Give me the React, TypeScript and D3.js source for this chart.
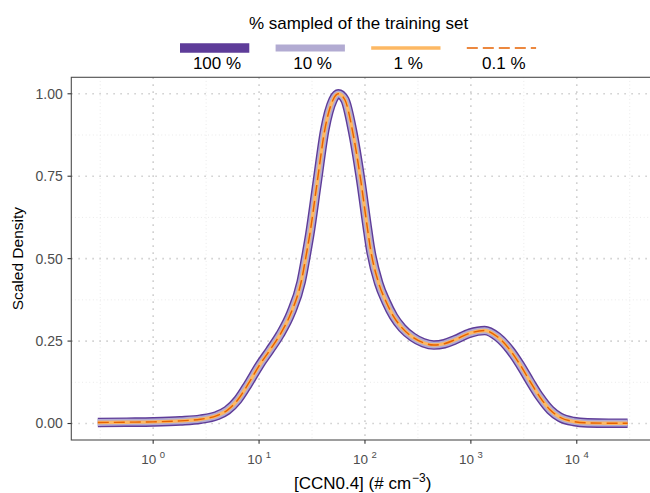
import React from 'react';
import * as d3 from 'd3';

// CCN0.4 concentration (# cm^-3) where the scaled density was read
const ccn = [0.3, 0.56, 1, 1.8, 2.8, 4, 5, 6.3, 7.9, 10, 12.6, 15.8, 20, 25, 28.2, 30, 35.5, 41.7, 50, 56,
  64.6, 76, 91, 106, 112, 135, 158, 186, 224, 282, 355, 447, 562, 708, 977, 1350, 1780, 2340, 2920, 3630,
  4470, 5620, 6920, 9330, 12600, 20000, 30200];

// scaled density for each sampling fraction of the training set
const density100 = [0.003, 0.004, 0.005, 0.008, 0.013, 0.024, 0.04, 0.072, 0.12, 0.175, 0.222, 0.27, 0.335,
  0.43, 0.52, 0.57, 0.735, 0.89, 0.982, 1.0, 0.982, 0.89, 0.74, 0.587, 0.535, 0.425, 0.37, 0.325, 0.29, 0.262,
  0.245, 0.238, 0.242, 0.254, 0.274, 0.282, 0.263, 0.223, 0.178, 0.127, 0.081, 0.041, 0.019, 0.006, 0.002,
  0.001, 0.001];
const density10 = [0.003, 0.004, 0.005, 0.008, 0.013, 0.024, 0.04, 0.072, 0.12, 0.175, 0.222, 0.27, 0.335,
  0.43, 0.52, 0.57, 0.735, 0.89, 0.982, 1.0, 0.982, 0.89, 0.74, 0.587, 0.535, 0.425, 0.37, 0.325, 0.29, 0.262,
  0.245, 0.238, 0.242, 0.254, 0.274, 0.282, 0.263, 0.223, 0.178, 0.127, 0.081, 0.041, 0.019, 0.006, 0.002,
  0.001, 0.001];
const density1 = [0.003, 0.004, 0.005, 0.008, 0.013, 0.024, 0.04, 0.072, 0.12, 0.175, 0.222, 0.27, 0.335,
  0.43, 0.52, 0.57, 0.735, 0.89, 0.982, 1.0, 0.982, 0.89, 0.74, 0.587, 0.535, 0.425, 0.37, 0.325, 0.29, 0.262,
  0.245, 0.238, 0.242, 0.254, 0.274, 0.282, 0.263, 0.223, 0.178, 0.127, 0.081, 0.041, 0.019, 0.006, 0.002,
  0.001, 0.001];
const density01 = [0.003, 0.004, 0.005, 0.008, 0.013, 0.024, 0.04, 0.072, 0.12, 0.175, 0.222, 0.27, 0.335,
  0.43, 0.52, 0.57, 0.735, 0.89, 0.982, 1.0, 0.982, 0.89, 0.74, 0.587, 0.535, 0.425, 0.37, 0.325, 0.29, 0.262,
  0.245, 0.238, 0.242, 0.254, 0.274, 0.282, 0.263, 0.223, 0.178, 0.127, 0.081, 0.041, 0.019, 0.006, 0.002,
  0.001, 0.001];

const seriesLabels = ['100 %', '10 %', '1 %', '0.1 %'];
const seriesColors = ['#5e3c99', '#b2abd2', '#fdb863', '#e66101'];
const yTicks = [0, 0.25, 0.5, 0.75, 1];
const xTickExps = [0, 1, 2, 3, 4];

const font = 'Liberation Sans, Arial, sans-serif';

const App = () => {
  const width = 650;
  const height = 493;
  const panel = { left: 71.3, right: 654.1, top: 77.3, bottom: 440 };

  // ggplot-style 5% expansion on the log axis
  const logExt = d3.extent(ccn.map((d) => Math.log10(d))) as [number, number];
  const pad = (logExt[1] - logExt[0]) * 0.05;
  const x = d3
    .scaleLog()
    .domain([10 ** (logExt[0] - pad), 10 ** (logExt[1] + pad)])
    .range([panel.left, panel.right]);
  const y = d3.scaleLinear().domain([-0.05, 1.05]).range([panel.bottom, panel.top]);

  const line = d3
    .line<number>()
    .x((d, i) => x(ccn[i]))
    .y((d) => y(d))
    .curve(d3.curveMonotoneX);

  const series = [density100, density10, density1, density01];
  const widths = [9.6, 6.8, 3.4, 1.4];

  const yMinor = [0.125, 0.375, 0.625, 0.875];
  const xMinor = [-0.5, 0.5, 1.5, 2.5, 3.5, 4.5].map((e) => 10 ** e);

  return (
    <svg width={width} height={height} style={{ position: 'absolute', left: 0, top: 0, background: '#fff' }}>
      {/* grid */}
      <g>
        {yMinor.map((v) => (
          <line key={'ym' + v} x1={panel.left} x2={panel.right} y1={y(v)} y2={y(v)}
            stroke="#e2e2e2" strokeWidth={0.8} strokeDasharray="0.9 2.7" />
        ))}
        {xMinor.map((v) => (
          <line key={'xm' + v} x1={x(v)} x2={x(v)} y1={panel.top} y2={panel.bottom}
            stroke="#e2e2e2" strokeWidth={0.8} strokeDasharray="0.9 2.7" />
        ))}
        {yTicks.map((v) => (
          <line key={'y' + v} x1={panel.left} x2={panel.right} y1={y(v)} y2={y(v)}
            stroke="#d0d0d0" strokeWidth={1.6} strokeDasharray="1.6 5.4" />
        ))}
        {xTickExps.map((e) => (
          <line key={'x' + e} x1={x(10 ** e)} x2={x(10 ** e)} y1={panel.top} y2={panel.bottom}
            stroke="#d0d0d0" strokeWidth={1.6} strokeDasharray="1.6 5.4" />
        ))}
      </g>

      {/* density curves */}
      <g fill="none">
        {series.map((s, i) => (
          <path key={seriesLabels[i]} d={line(s) || ''} stroke={seriesColors[i]} strokeWidth={widths[i]}
            strokeLinejoin="round" strokeDasharray={i === 3 ? '11 5' : undefined} />
        ))}
      </g>

      {/* panel border */}
      <rect x={panel.left} y={panel.top} width={panel.right - panel.left} height={panel.bottom - panel.top}
        fill="none" stroke="#4d4d4d" strokeWidth={1.1} />

      {/* y axis */}
      <g fontFamily={font} fontSize={14} fill="#4d4d4d">
        {yTicks.map((v) => (
          <g key={v}>
            <line x1={panel.left - 3.8} x2={panel.left} y1={y(v)} y2={y(v)} stroke="#333" strokeWidth={1.1} />
            <text x={panel.left - 8.5} y={y(v)} dy="0.35em" textAnchor="end">{v.toFixed(2)}</text>
          </g>
        ))}
      </g>
      <text transform={`translate(23,${(panel.top + panel.bottom) / 2}) rotate(-90)`} textAnchor="middle"
        fontFamily={font} fontSize={15.5} fill="#000">Scaled Density</text>

      {/* x axis */}
      <g fontFamily={font} fontSize={13.5} fill="#4d4d4d">
        {xTickExps.map((e) => (
          <g key={e}>
            <line x1={x(10 ** e)} x2={x(10 ** e)} y1={panel.bottom} y2={panel.bottom + 3.8} stroke="#333" strokeWidth={1.1} />
            <text x={x(10 ** e)} y={464} textAnchor="middle">
              10<tspan dx={3.5} dy={-6.5} fontSize={9.5}>{e}</tspan>
            </text>
          </g>
        ))}
      </g>
      <text x={(panel.left + panel.right) / 2} y={489} textAnchor="middle" fontFamily={font} fontSize={17} fill="#000">
        [CCN0.4] (# cm<tspan dx={1} dy={-7.5} fontSize={12}>{'\u22123'}</tspan><tspan dy={7.5}>)</tspan>
      </text>

      {/* legend */}
      <text x={358.5} y={28.5} textAnchor="middle" fontFamily={font} fontSize={17} fill="#000">
        % sampled of the training set
      </text>
      {seriesLabels.map((lab, i) => {
        const kx = 180 + i * 95.6;
        return (
          <g key={lab}>
            <line x1={kx} x2={kx + 69.3} y1={48} y2={48} stroke={seriesColors[i]} strokeWidth={widths[i]}
              strokeDasharray={i === 3 ? '11 5' : undefined} />
            <text x={kx + 37} y={69} textAnchor="middle" fontFamily={font} fontSize={17} fill="#000">{lab}</text>
          </g>
        );
      })}
    </svg>
  );
};

export default App;
